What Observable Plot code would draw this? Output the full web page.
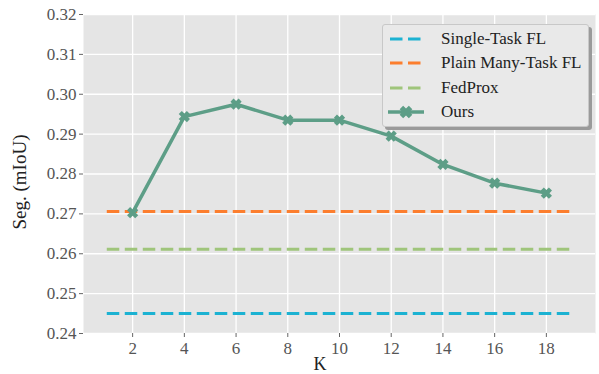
<!DOCTYPE html>
<html>
<head>
<meta charset="utf-8">
<script src="https://cdn.jsdelivr.net/npm/d3@7"></script>
<script src="https://cdn.jsdelivr.net/npm/@observablehq/plot@0.6"></script>
<style>
  html, body { margin: 0; padding: 0; background: #fff; }
  #wrap { position: relative; width: 599px; height: 374px; font-family: "Liberation Serif", serif; }
  #legend { position: absolute; left: 382px; top: 24px; width: 207px; height: 103px;
    background: #e9e9e9; border: 1px solid #c8c8c8; border-radius: 3px;
    box-shadow: 3px 3px 0 #9a9a9a; box-sizing: border-box; }
  .row { position: absolute; left: 0; height: 24px; display: flex; align-items: center; }
  .row span { font-size: 17px; color: #222; margin-left: 17px; }
</style>
</head>
<body>
<div id="wrap"></div>
<script>
const K = [2, 4, 6, 8, 10, 12, 14, 16, 18];
const ours = [0.2703, 0.2944, 0.2975, 0.2935, 0.2935, 0.2895, 0.2824, 0.2777, 0.2752];
const baselineNames = ["Single-Task FL", "Plain Many-Task FL", "FedProx"];
const baselineValues = [0.2450, 0.2706, 0.2611];
const baselineColors = ["#1cb2d2", "#fc7e2e", "#9fc57b"];
const oursColor = "#5d9e87";
const baselineSpan = [1, 19];
const xTicks = [2, 4, 6, 8, 10, 12, 14, 16, 18];
const yTicks = [0.24, 0.25, 0.26, 0.27, 0.28, 0.29, 0.30, 0.31, 0.32];

const oursData = K.map((k, i) => ({k, v: ours[i]}));
const baseData = [];
baselineNames.forEach((n, i) => baselineSpan.forEach(k => baseData.push({name: n, k, v: baselineValues[i], c: baselineColors[i]})));

const filledX = {
  draw(context, size) {
    const r = Math.sqrt(size) / 2, w = r * 0.38;
    const pts = [[w,r],[w,w],[r,w],[r,-w],[w,-w],[w,-r],[-w,-r],[-w,-w],[-r,-w],[-r,w],[-w,w],[-w,r]];
    const c = Math.SQRT1_2;
    pts.forEach(([x,y], i) => {
      const X = (x - y) * c, Y = (x + y) * c;
      i ? context.lineTo(X, Y) : context.moveTo(X, Y);
    });
    context.closePath();
  }
};

const chart = Plot.plot({
  width: 599, height: 374,
  marginLeft: 83, marginRight: 4, marginTop: 14, marginBottom: 41,
  style: {fontFamily: "'Liberation Serif', serif", fontSize: "17px", color: "#555", background: "transparent"},
  x: {domain: [0.1, 19.9], label: null},
  y: {domain: [0.24, 0.32], label: null},
  marks: [
    Plot.frame({fill: "#e5e5e5", stroke: null}),
    Plot.gridX(xTicks, {stroke: "#fff", strokeOpacity: 1, strokeWidth: 1.3}),
    Plot.gridY(yTicks, {stroke: "#fff", strokeOpacity: 1, strokeWidth: 1.3}),
    Plot.axisX({ticks: xTicks, tickSize: 4, tickPadding: 4, stroke: "#666", fill: "#555", label: null}),
    Plot.axisY({ticks: yTicks, tickSize: 4, tickPadding: 3, tickFormat: d3.format(".2f"), stroke: "#666", fill: "#555", label: null}),
    Plot.line(baseData, {x: "k", y: "v", z: "name", stroke: "c", strokeWidth: 3, strokeDasharray: "12.5,5.5", strokeLinecap: "butt"}),
    Plot.line(oursData, {x: "k", y: "v", stroke: oursColor, strokeWidth: 3.5}),
    Plot.dot(oursData, {x: "k", y: "v", symbol: filledX, r: 6.5, fill: oursColor, stroke: null})
  ]
});
const wrap = document.getElementById("wrap");
chart.style.position = "absolute"; chart.style.left = "0"; chart.style.top = "0";
wrap.appendChild(chart);

const svg = d3.select(chart);
svg.selectAll("text")
  .style("font-family", "'Liberation Serif', serif")
  .style("font-size", "17px");

// axis titles
svg.append("text").attr("x", 320).attr("y", 370).attr("text-anchor", "middle")
  .style("font-family", "'Liberation Serif', serif").style("font-size", "18px").attr("fill", "#222").text("K");
svg.append("text").attr("transform", "translate(26,182) rotate(-90)").attr("text-anchor", "middle")
  .style("font-family", "'Liberation Serif', serif").style("font-size", "19px").attr("fill", "#222").text("Seg. (mIoU)");

// legend
const legend = document.createElement("div");
legend.id = "legend";
const items = baselineNames.map((n, i) => ({n, c: baselineColors[i], dash: true})).concat([{n: "Ours", c: oursColor, dash: false}]);
items.forEach((it, i) => {
  const row = document.createElement("div");
  row.className = "row";
  row.style.top = (2 + i * 24.3) + "px";
  const s = d3.create("svg").attr("width", 38).attr("height", 20).style("margin-left", "3px");
  if (it.dash) {
    s.append("line").attr("x1", 4).attr("x2", 36).attr("y1", 10).attr("y2", 10)
      .attr("stroke", it.c).attr("stroke-width", 3).attr("stroke-dasharray", "12.5,5.5");
  } else {
    s.append("line").attr("x1", 2).attr("x2", 38).attr("y1", 10).attr("y2", 10)
      .attr("stroke", it.c).attr("stroke-width", 3.5);
    const p = d3.path(); filledX.draw(p, 13 * 13);
    s.append("path").attr("d", p.toString()).attr("transform", "translate(20,10)").attr("fill", it.c);
  }
  row.appendChild(s.node());
  const t = document.createElement("span"); t.textContent = it.n;
  row.appendChild(t);
  legend.appendChild(row);
});
wrap.appendChild(legend);
</script>
</body>
</html>
